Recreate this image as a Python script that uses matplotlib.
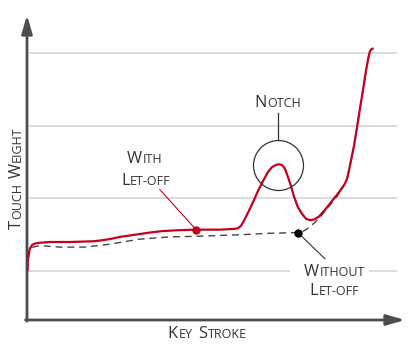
import numpy as np
import matplotlib
matplotlib.use("Agg")
import matplotlib.pyplot as plt
from matplotlib.font_manager import FontProperties
from matplotlib.transforms import offset_copy
from matplotlib.patches import Rectangle

FONT = "Open Sans"
TXT = "#333333"
RED = "#c4001d"

# touch weight curves (key stroke 0-100, weight in grid units)
stroke_with = [0.08, 0.2, 0.4, 0.8, 1.4, 2.2, 3.5, 6.2, 11.6, 17.8, 19.7, 22.4, 25.1,
               27.8, 30.5, 33.2, 36.5, 40.0, 45.7, 52.2, 56.0, 57.0, 57.8, 58.6,
               59.7, 61.1, 62.4, 63.8, 65.1, 66.2, 67.3, 68.1, 68.9, 69.7, 70.5,
               71.4, 72.2, 73.2, 74.3, 75.4, 76.5, 77.6, 78.9, 80.5, 82.2, 83.8,
               85.1, 85.9, 86.5, 87.0, 87.6, 88.4, 89.2, 90.0, 90.8, 91.6, 92.2,
               92.6, 93.0, 93.4]
weight_with = [1.01, 1.15, 1.24, 1.31, 1.36, 1.38, 1.39, 1.40, 1.40, 1.41, 1.42, 1.44, 1.47,
               1.49, 1.51, 1.53, 1.55, 1.56, 1.57, 1.57, 1.58, 1.59, 1.62, 1.69,
               1.80, 1.95, 2.10, 2.24, 2.36, 2.43, 2.46, 2.47, 2.46, 2.41, 2.30,
               2.16, 2.02, 1.88, 1.79, 1.72, 1.70, 1.71, 1.75, 1.84, 1.95, 2.05,
               2.14, 2.20, 2.27, 2.38, 2.53, 2.73, 2.98, 3.24, 3.49, 3.75, 3.92,
               4.01, 4.05, 4.06]

stroke_without = [0.15, 0.4, 0.8, 1.6, 3.5, 8.9, 15.7, 22.4, 30.5, 38.6, 46.8, 57.6,
                  65.7, 73.2, 74.3, 75.4, 76.5, 77.8, 79.2, 80.8, 82.4, 83.8, 85.1,
                  85.9, 86.5, 87.0, 87.6, 88.4, 89.2, 90.0, 90.8, 91.6, 92.2, 92.6,
                  92.9]
weight_without = [1.01, 1.18, 1.27, 1.33, 1.35, 1.33, 1.33, 1.37, 1.44, 1.47, 1.48, 1.50,
                  1.52, 1.53, 1.54, 1.57, 1.61, 1.67, 1.74, 1.84, 1.94, 2.03, 2.13,
                  2.20, 2.27, 2.38, 2.53, 2.73, 2.98, 3.24, 3.49, 3.75, 3.92, 4.00,
                  4.04]

grid_levels = [1, 2, 3, 4]
letoff_point = (45.7, 1.57)
without_point = (73.2, 1.53)
notch_point = (67.8, 2.46)


def small_caps(ax, x, y, text, big=11.8, small=9.0, rotation=0):
    fig = ax.figure
    r = fig.canvas.get_renderer()
    pieces = []
    for i, word in enumerate(text.split(" ")):
        if i:
            pieces.append((" ", small))
        pieces.append((word[0], big))
        if len(word) > 1:
            pieces.append((word[1:].upper(), small))
    widths = []
    for s, size in pieces:
        if s == " ":
            widths.append(size * 0.4 * fig.dpi / 72)
            continue
        fp = FontProperties(family=FONT, size=size)
        w, h, d = r.get_text_width_height_descent(s, fp, ismath=False)
        widths.append(w + 0.6)
    pos = -sum(widths) / 2
    c, sn = np.cos(np.radians(rotation)), np.sin(np.radians(rotation))
    for (s, size), w in zip(pieces, widths):
        if s != " ":
            tr = offset_copy(ax.transData, fig=fig, x=pos * c, y=pos * sn, units="dots")
            ax.text(x, y, s, transform=tr, fontsize=size, family=FONT, color=TXT,
                    ha="left", va="baseline", rotation=rotation,
                    rotation_mode="anchor", clip_on=False, zorder=6)
        pos += w


fig = plt.figure(figsize=(4.15, 3.52), dpi=100)
ax = fig.add_axes([27 / 415, 32 / 352, 378 / 415, 305 / 352])
ax.set_xlim(0, 102.16)
ax.set_ylim(0.327, 4.523)
ax.axis("off")

ax.hlines(grid_levels, 0.5, 100, color="#d2d2d2", lw=1.1, zorder=1)
ax.add_patch(Rectangle((71.0, 0.6), 21.5, 0.5, facecolor="white", edgecolor="none", zorder=2))

ax.plot(stroke_without, weight_without, color="#444444", lw=1.0, dashes=(5, 3.5), zorder=3)
ax.plot(stroke_with, weight_with, color=RED, lw=1.6, zorder=4, solid_joinstyle="round")

# axis arrows
arrow = dict(arrowstyle="-|>,head_length=1.1,head_width=0.32", color="#4d4d4d", lw=2.0,
             mutation_scale=10, shrinkA=0, shrinkB=0)
ax.annotate("", xy=(0, 1), xytext=(0, -0.004), xycoords="axes fraction", arrowprops=arrow)
ax.annotate("", xy=(1, 0), xytext=(-0.004, 0), xycoords="axes fraction", arrowprops=arrow)

# markers and leaders
ax.plot([35.9, letoff_point[0]], [2.12, letoff_point[1]], color=RED, lw=0.8, zorder=4)
ax.plot(*letoff_point, "o", color=RED, ms=5, zorder=5)
ax.plot([without_point[0], 80.5], [without_point[1], 1.17], color="#333333", lw=0.8, zorder=4)
ax.plot(*without_point, "o", color="black", ms=5, zorder=5)

ax.plot(*notch_point, "o", mfc="none", mec="#333333", mew=0.9, ms=36, zorder=5)
ax.plot([notch_point[0], notch_point[0]], [2.80, 3.17], color="#333333", lw=0.9, zorder=5)

small_caps(ax, 67.8, 3.26, "Notch")
small_caps(ax, 31.9, 2.49, "With")
small_caps(ax, 32.2, 2.19, "Let-off")
small_caps(ax, 83.1, 0.93, "Without")
small_caps(ax, 83.2, 0.67, "Let-off")
small_caps(ax, 48.8, 0.084, "Key Stroke")
small_caps(ax, -1.6, 2.29, "Touch Weight", rotation=90)

fig.savefig("out.png", dpi=100)
